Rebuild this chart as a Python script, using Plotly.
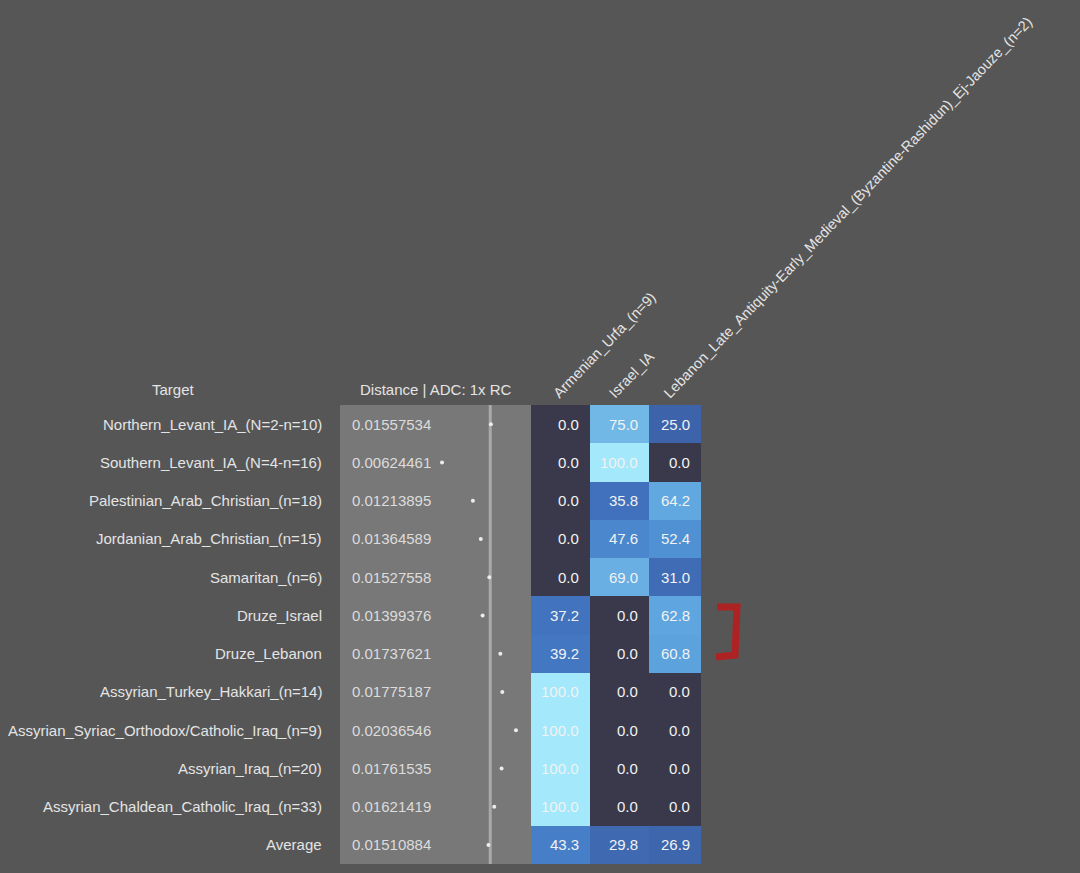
import plotly.graph_objects as go

W, H = 1080, 873

targets = [
    "Northern_Levant_IA_(N=2-n=10)",
    "Southern_Levant_IA_(N=4-n=16)",
    "Palestinian_Arab_Christian_(n=18)",
    "Jordanian_Arab_Christian_(n=15)",
    "Samaritan_(n=6)",
    "Druze_Israel",
    "Druze_Lebanon",
    "Assyrian_Turkey_Hakkari_(n=14)",
    "Assyrian_Syriac_Orthodox/Catholic_Iraq_(n=9)",
    "Assyrian_Iraq_(n=20)",
    "Assyrian_Chaldean_Catholic_Iraq_(n=33)",
    "Average",
]
distances = [0.01557534, 0.00624461, 0.01213895, 0.01364589, 0.01527558, 0.01399376,
             0.01737621, 0.01775187, 0.02036546, 0.01761535, 0.01621419, 0.01510884]
sources = ["Armenian_Urfa_(n=9)", "Israel_IA",
           "Lebanon_Late_Antiquity-Early_Medieval_(Byzantine-Rashidun)_Ej-Jaouze_(n=2)"]
armenian = [0.0, 0.0, 0.0, 0.0, 0.0, 37.2, 39.2, 100.0, 100.0, 100.0, 100.0, 43.3]
israel = [75.0, 100.0, 35.8, 47.6, 69.0, 0.0, 0.0, 0.0, 0.0, 0.0, 0.0, 29.8]
lebanon = [25.0, 0.0, 64.2, 52.4, 31.0, 62.8, 60.8, 0.0, 0.0, 0.0, 0.0, 26.9]
ref_line = 0.01545

# layout geometry (pixels)
TOP, BOT = 405, 864
DIST_L, DIST_R = 340, 531
HM_R = 701
col_edges = [0, 58.5, 117.5, 170]
label_shifts = [-6, -9, -10]

FONT = "Liberation Sans, Arial, sans-serif"
TXT = "#e4e4e4"

n = len(targets)
rows = list(range(n))
z = [[armenian[i], israel[i], lebanon[i]] for i in rows]

fig = go.Figure()

colorscale = [
    [0.0, "#3a394b"], [0.005, "#3a394b"], [0.01, "#3b5ea5"],
    [0.25, "#3d64aa"], [0.37, "#4173be"], [0.48, "#4a88cd"],
    [0.62, "#5ea5e0"], [0.75, "#72b8e6"], [1.0, "#a3e8fb"],
]
fig.add_trace(go.Heatmap(
    z=z, x=col_edges, y=rows, colorscale=colorscale, zmin=0, zmax=100,
    showscale=False, xaxis="x2", yaxis="y", hoverinfo="skip",
))

fig.add_trace(go.Scatter(
    x=distances, y=rows, mode="markers", xaxis="x", yaxis="y",
    marker=dict(size=4, color="#ececec"), hoverinfo="skip", showlegend=False,
))

ann = []
for i in rows:
    ann.append(dict(x=324 / W, y=i, xref="paper", yref="y", text=targets[i],
                    xanchor="right", yanchor="middle", showarrow=False,
                    font=dict(family=FONT, size=15, color=TXT)))
    ann.append(dict(x=350 / W, y=i, xref="paper", yref="y", text=f"{distances[i]:.8f}",
                    xanchor="left", yanchor="middle", showarrow=False,
                    font=dict(family=FONT, size=15, color="#dcdcdc")))
    for j in range(3):
        ann.append(dict(x=col_edges[j + 1], y=i, xref="x2", yref="y", xshift=-9,
                        text=f"{z[i][j]:.1f}", xanchor="right", yanchor="middle",
                        showarrow=False, font=dict(family=FONT, size=15, color="#f2f2f2")))

ann.append(dict(x=173 / W, y=1 - 389 / H, xref="paper", yref="paper", text="Target",
                xanchor="center", yanchor="middle", showarrow=False,
                font=dict(family=FONT, size=15, color=TXT)))
ann.append(dict(x=435.5 / W, y=1 - 389 / H, xref="paper", yref="paper",
                text="Distance | ADC: 1x RC", xanchor="center", yanchor="middle",
                showarrow=False, font=dict(family=FONT, size=15, color=TXT)))

shapes = [
    dict(type="line", xref="x", yref="paper", x0=ref_line, x1=ref_line,
         y0=1 - BOT / H, y1=1 - TOP / H, line=dict(color="#a9a9a9", width=3), layer="below"),
    dict(type="path", xref="paper", yref="paper",
         path=f"M {717/W} {1-607/H} L {737/W} {1-607/H} L {735/W} {1-655/H} L {716/W} {1-657/H}",
         line=dict(color="#ad2323", width=7)),
]

centers = [(col_edges[k] + col_edges[k + 1]) / 2 + label_shifts[k] for k in range(3)]

fig.update_layout(
    width=W, height=H, margin=dict(l=0, r=0, t=0, b=0, autoexpand=False),
    paper_bgcolor="#565656", plot_bgcolor="#787878",
    showlegend=False,
    xaxis=dict(domain=[DIST_L / W, DIST_R / W], range=[-0.01323, 0.02323],
               showgrid=False, zeroline=False, showticklabels=False, ticks="",
               fixedrange=True, automargin=False),
    xaxis2=dict(domain=[DIST_R / W, HM_R / W], range=[col_edges[0], col_edges[-1]],
                side="top", anchor="y", tickmode="array", tickvals=centers, ticktext=sources,
                tickangle=-46, showgrid=False, zeroline=False, ticks="", automargin=False,
                tickfont=dict(family=FONT, size=14.5, color=TXT)),
    yaxis=dict(domain=[1 - BOT / H, 1 - TOP / H], range=[n - 0.5, -0.5], automargin=False,
               showgrid=False, zeroline=False, showticklabels=False, ticks=""),
    annotations=ann, shapes=shapes,
    font=dict(family=FONT, size=15, color=TXT),
)

fig.write_html("out.html")
